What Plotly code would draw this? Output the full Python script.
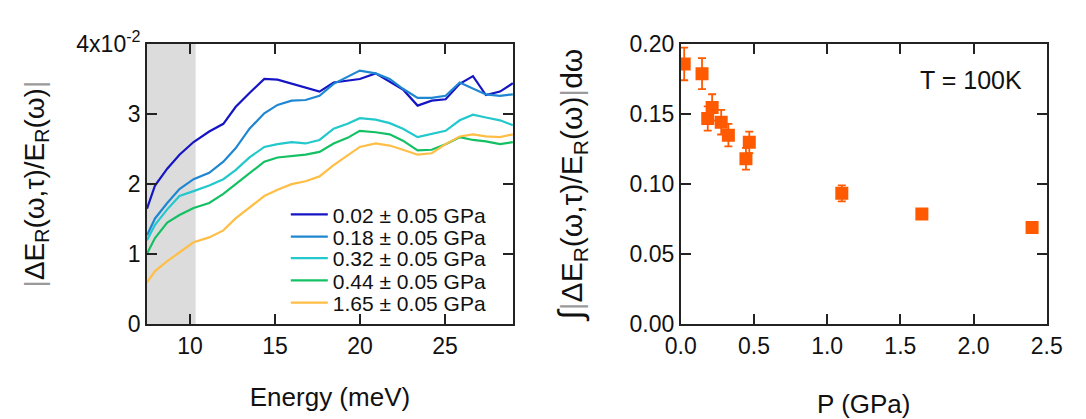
import plotly.graph_objects as go

# ---------------- data ----------------
energy_meV = [7.47, 7.94, 8.66, 9.38, 10.21, 11.13, 11.96, 12.68, 13.50, 14.37,
              15.15, 15.98, 16.80, 17.62, 18.45, 19.27, 19.99, 20.92, 21.75, 22.53,
              23.39, 24.22, 25.04, 25.87, 26.65, 27.41, 28.24, 29.0]

# |dE_R/E_R| in units of 1e-2
p002 = [1.65, 1.98, 2.22, 2.42, 2.60, 2.75, 2.86, 3.10, 3.30, 3.50,
        3.49, 3.43, 3.37, 3.32, 3.45, 3.48, 3.50, 3.58, 3.46, 3.35,
        3.12, 3.19, 3.21, 3.43, 3.54, 3.27, 3.32, 3.44]
p018 = [1.27, 1.51, 1.73, 1.93, 2.07, 2.16, 2.32, 2.51, 2.79, 3.01,
        3.13, 3.19, 3.20, 3.26, 3.43, 3.53, 3.62, 3.58, 3.50, 3.36,
        3.23, 3.23, 3.26, 3.45, 3.36, 3.28, 3.26, 3.28]
p032 = [1.20, 1.42, 1.64, 1.83, 1.90, 1.98, 2.07, 2.20, 2.38, 2.53,
        2.57, 2.60, 2.58, 2.63, 2.79, 2.86, 2.94, 2.92, 2.87, 2.79,
        2.67, 2.72, 2.76, 2.91, 2.99, 2.95, 2.91, 2.84]
p044 = [1.01, 1.23, 1.45, 1.56, 1.66, 1.73, 1.86, 2.00, 2.15, 2.32,
        2.38, 2.40, 2.42, 2.46, 2.58, 2.66, 2.76, 2.74, 2.71, 2.62,
        2.48, 2.49, 2.57, 2.67, 2.63, 2.61, 2.57, 2.60]
p165 = [0.60, 0.76, 0.90, 1.03, 1.17, 1.24, 1.34, 1.51, 1.67, 1.83,
        1.92, 2.00, 2.04, 2.11, 2.27, 2.41, 2.53, 2.58, 2.55, 2.49,
        2.42, 2.44, 2.57, 2.68, 2.71, 2.68, 2.67, 2.71]

series_names = ["0.02 ± 0.05 GPa", "0.18 ± 0.05 GPa", "0.32 ± 0.05 GPa",
                "0.44 ± 0.05 GPa", "1.65 ± 0.05 GPa"]
series_values = [p002, p018, p032, p044, p165]
series_colors = ["#1515C4", "#1F87D2", "#22C8CC", "#14C064", "#FFBE45"]

shade_start = 7.47
shade_end = 10.33

pressure_GPa = [0.023, 0.145, 0.184, 0.214, 0.276, 0.325, 0.445, 0.468, 1.10, 1.647, 2.40]
integral = [0.1857, 0.1788, 0.1468, 0.1547, 0.1442, 0.1349, 0.1181, 0.1298, 0.0934, 0.0786, 0.0691]
integral_err = [0.0116, 0.0110, 0.0086, 0.0094, 0.0088, 0.0080, 0.0077, 0.0077, 0.0057, 0.0030, 0.0025]

left_yticks = [0, 1, 2, 3, 4]
left_yticktext = ["0", "1", "2", "3", "4x10<sup>-2</sup>"]
left_xticks = [10, 15, 20, 25]
right_xticks = [0.0, 0.5, 1.0, 1.5, 2.0, 2.5]
right_yticks = [0.00, 0.05, 0.10, 0.15, 0.20]

# ---------------- figure ----------------
W, H = 1086, 419
FONT = "Arial, Liberation Sans, sans-serif"
BAR = '<span style="color:#9a9a9a">|</span>'
fig = go.Figure()

legend_ids = ["legend", "legend2", "legend3", "legend4", "legend5"]
for name, vals, col, lid in zip(series_names, series_values, series_colors, legend_ids):
    fig.add_trace(go.Scatter(x=energy_meV, y=vals, mode="lines", name=name,
                             line=dict(color=col, width=2.2), legend=lid,
                             xaxis="x", yaxis="y"))

fig.add_trace(go.Scatter(x=pressure_GPa, y=integral, mode="markers",
                         showlegend=False,
                         marker=dict(symbol="square", size=13, color="#FF5A00"),
                         error_y=dict(type="data", array=integral_err, visible=True,
                                      color="#FF5A00", thickness=1.8, width=4),
                         xaxis="x2", yaxis="y2"))

axis_common = dict(showline=True, linecolor="#222222", linewidth=1.8, mirror="ticks",
                   ticks="inside", ticklen=10, tickwidth=1.6, tickcolor="#222222",
                   showgrid=False, zeroline=False,
                   tickfont=dict(family=FONT, size=23, color="#111111"))

ydom = [1 - 331 / H, 1 - 29 / H]

legends = {}
row_y = [213, 237, 260, 284, 308]
for lid, ry in zip(legend_ids, row_y):
    legends[lid] = dict(x=278 / W, y=1 - ry / H, xanchor="left", yanchor="middle",
                        bgcolor="rgba(0,0,0,0)",
                        font=dict(family=FONT, size=21, color="#111111"),
                        itemwidth=37, borderwidth=0)

fig.update_layout(
    width=W, height=H,
    margin=dict(l=0, r=0, t=0, b=0),
    paper_bgcolor="white", plot_bgcolor="white",
    font=dict(family=FONT, color="#111111"),
    xaxis=dict(domain=[135 / W, 512 / W], range=[shade_start, 29.0],
               tickvals=left_xticks,
               title=dict(text="Energy (meV)", font=dict(size=26), standoff=30),
               anchor="y", **axis_common),
    yaxis=dict(domain=ydom, range=[0, 4], tickvals=left_yticks, ticktext=left_yticktext,
               title=dict(text=BAR + "ΔE<sub>R</sub>(ω,τ)/E<sub>R</sub>(ω)" + BAR,
                          font=dict(size=28), standoff=24),
               anchor="x", **axis_common),
    xaxis2=dict(domain=[685 / W, 1062 / W], range=[0, 2.5], tickvals=right_xticks,
                tickformat=".1f",
                title=dict(text="P (GPa)", font=dict(size=26), standoff=40),
                anchor="y2", **axis_common),
    yaxis2=dict(domain=ydom, range=[0, 0.2], tickvals=right_yticks, tickformat=".2f",
                title=dict(text='<span style="font-size:34px">∫</span>' + BAR
                                + "ΔE<sub>R</sub>(ω,τ)/E<sub>R</sub>(ω)" + BAR + "dω",
                           font=dict(size=30), standoff=38),
                anchor="x2", **axis_common),
    shapes=[dict(type="rect", xref="x", yref="y domain", x0=shade_start, x1=shade_end,
                 y0=0, y1=1, fillcolor="#DCDCDC", line=dict(width=0), layer="below")],
    annotations=[dict(text="T = 100K", x=1.98, y=0.174, xref="x2", yref="y2",
                      showarrow=False, font=dict(family=FONT, size=25, color="#111111"))],
    **legends,
)

fig.write_html("out.html")
